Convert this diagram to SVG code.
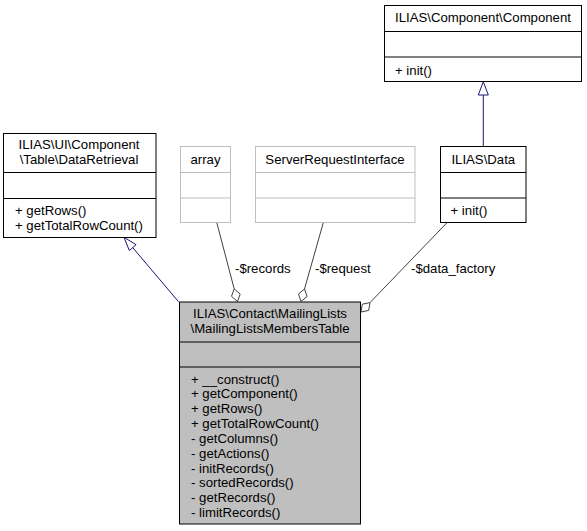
<svg xmlns="http://www.w3.org/2000/svg" width="587" height="531" viewBox="0 0 587 531">
<style>
text{font-family:"Liberation Sans",Arial,sans-serif;font-size:13.2px;fill:#000}
.c{text-anchor:middle}
.box{fill:#fff;stroke:#000;stroke-width:1}
.ext{fill:#fff;stroke:#bfbfbf;stroke-width:1}
.main{fill:#bfbfbf;stroke:#000;stroke-width:1}
.inh{stroke:#191970;fill:none;stroke-width:1}
.inhh{stroke:#191970;fill:#fff;stroke-width:1}
.use{stroke:#404040;fill:none;stroke-width:1}
.useh{stroke:#404040;fill:#fff;stroke-width:1}
</style>
<rect width="587" height="531" fill="#fff"/>
<g id="connectors">
<path class="inh" d="M178.5,301.7 L132.7,247.6"/>
<polygon class="inhh" points="124,237.3 136.1,244.7 129.3,250.5"/>
<path class="inh" d="M483.3,146.7 L483.3,95"/>
<polygon class="inhh" points="483.3,81.7 488.3,95 478.3,95"/>
<path class="use" d="M216.7,222.3 L234.2,288.9"/>
<polygon class="useh" points="237.5,301.5 240.2,294.1 234.2,288.9 231.5,296.3"/>
<text x="235" y="272.5">-$records</text>
<path class="use" d="M323.3,222.7 L304.5,289"/>
<polygon class="useh" points="301,301.5 307.1,296.5 304.5,289 298.5,294"/>
<text x="315" y="272.5">-$request</text>
<path class="use" d="M447,222.7 L370,302.6"/>
<polygon class="useh" points="361,312 368.7,310.4 370,302.6 362.3,304.2"/>
<text x="411" y="272.5">-$data_factory</text>
</g>
<g id="node-main">
<rect class="main" x="179.5" y="302" width="181" height="222"/>
<line x1="179.5" y1="342" x2="360.5" y2="342" stroke="#000"/>
<line x1="179.5" y1="367" x2="360.5" y2="367" stroke="#000"/>
<text class="c" x="270" y="318.3">ILIAS\Contact\MailingLists</text>
<text class="c" x="270" y="332.7">\MailingListsMembersTable</text>
<text x="191" y="383.5">+ __construct()</text>
<text x="191" y="398.35">+ getComponent()</text>
<text x="191" y="413.2">+ getRows()</text>
<text x="191" y="428.05">+ getTotalRowCount()</text>
<text x="191" y="442.9">- getColumns()</text>
<text x="191" y="457.75">- getActions()</text>
<text x="191" y="472.6">- initRecords()</text>
<text x="191" y="487.45">- sortedRecords()</text>
<text x="191" y="502.3">- getRecords()</text>
<text x="191" y="517.15">- limitRecords()</text>
</g>
<g id="node-dataretrieval">
<rect class="box" x="3.5" y="133.5" width="152.5" height="104"/>
<line x1="3.5" y1="172.5" x2="156" y2="172.5" stroke="#000"/>
<line x1="3.5" y1="198.5" x2="156" y2="198.5" stroke="#000"/>
<text class="c" x="79" y="149.2">ILIAS\UI\Component</text>
<text class="c" x="79" y="163.6">\Table\DataRetrieval</text>
<text x="15" y="214.5">+ getRows()</text>
<text x="15" y="230">+ getTotalRowCount()</text>
</g>
<g id="node-array">
<rect class="ext" x="180.5" y="146.5" width="50" height="76"/>
<line x1="180.5" y1="172.5" x2="230.5" y2="172.5" stroke="#bfbfbf"/>
<line x1="180.5" y1="198" x2="230.5" y2="198" stroke="#bfbfbf"/>
<text class="c" x="205.5" y="163.7">array</text>
</g>
<g id="node-serverrequest">
<rect class="ext" x="255.5" y="146.5" width="159.5" height="76"/>
<line x1="255.5" y1="172.5" x2="415" y2="172.5" stroke="#bfbfbf"/>
<line x1="255.5" y1="198" x2="415" y2="198" stroke="#bfbfbf"/>
<text class="c" x="335" y="163.7">ServerRequestInterface</text>
</g>
<g id="node-data">
<rect class="box" x="440.5" y="146.5" width="85.5" height="76"/>
<line x1="440.5" y1="172.5" x2="526" y2="172.5" stroke="#000"/>
<line x1="440.5" y1="198" x2="526" y2="198" stroke="#000"/>
<text class="c" x="483.3" y="163.7">ILIAS\Data</text>
<text x="450.5" y="214.5">+ init()</text>
</g>
<g id="node-component">
<rect class="box" x="384.5" y="5.5" width="197" height="76"/>
<line x1="384.5" y1="31.5" x2="581.5" y2="31.5" stroke="#000"/>
<line x1="384.5" y1="57" x2="581.5" y2="57" stroke="#000"/>
<text class="c" x="483" y="22">ILIAS\Component\Component</text>
<text x="395" y="74.5">+ init()</text>
</g>
</svg>
